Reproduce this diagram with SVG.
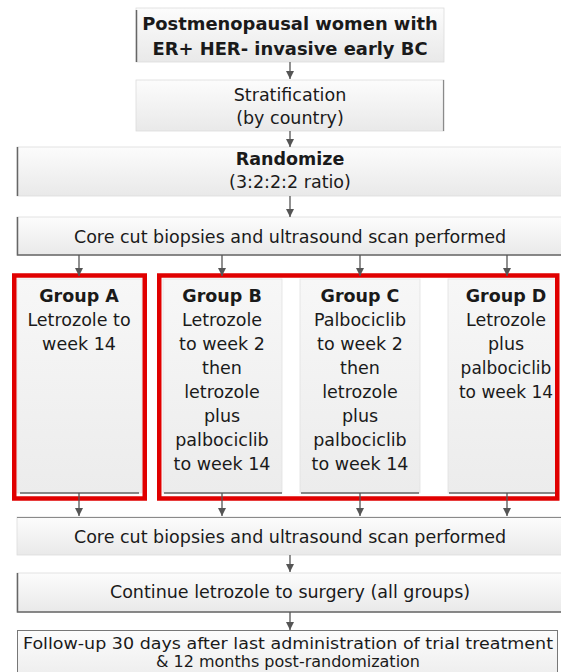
<svg xmlns="http://www.w3.org/2000/svg" width="561" height="672" viewBox="0 0 561 672">
<defs>
<linearGradient id="g" x1="0" y1="0" x2="0" y2="1">
<stop offset="0" stop-color="#fcfcfc"/>
<stop offset="1" stop-color="#e9e9e9"/>
</linearGradient>
<linearGradient id="gt" x1="0" y1="0" x2="0" y2="1">
<stop offset="0" stop-color="#f7f7f7"/>
<stop offset="1" stop-color="#ececec"/>
</linearGradient>
<marker id="ah" markerWidth="10" markerHeight="10" refX="9" refY="5" orient="auto" markerUnits="userSpaceOnUse" viewBox="0 0 10 10">
<path d="M1,1 L9,5 L1,9 Z" fill="#555"/>
</marker>
</defs>
<style>
.box{fill:url(#g);stroke:#dcdcdc;stroke-width:0.8}
.tall{fill:url(#gt);stroke:#e2e2e2;stroke-width:0.8}
.edge{stroke:#666;stroke-width:1.5;fill:none}
.edgel{stroke:#8a8a8a;stroke-width:1.2;fill:none}
.red{fill:none;stroke:#e00000;stroke-width:4.5}
.t{font-family:"DejaVu Sans",Verdana,sans-serif;font-size:17.5px;fill:#1a1a1a;text-anchor:middle}
.b{font-weight:bold}
.c{stroke:#555;stroke-width:1.3;fill:none;marker-end:url(#ah)}
</style>
<rect width="561" height="672" fill="#ffffff"/>

<g id="n1">
<rect class="box" x="136" y="8" width="308" height="54"/>
<line class="edge" x1="136.5" y1="10" x2="136.5" y2="62"/>
<text class="t b" x="290" y="30" style="font-size:17.9px">Postmenopausal women with</text>
<text class="t b" x="290" y="55" style="font-size:17.9px">ER+ HER- invasive early BC</text>
</g>

<g id="n2">
<rect class="box" x="136" y="80" width="308" height="51"/>
<line class="edgel" x1="443.5" y1="80" x2="443.5" y2="131"/>
<text class="t" x="290" y="101">Stratification</text>
<text class="t" x="290" y="124">(by country)</text>
</g>

<g id="n3">
<rect class="box" x="17" y="147" width="546" height="49"/>
<line class="edge" x1="17.5" y1="147" x2="17.5" y2="196"/>
<text class="t b" x="290" y="165">Randomize</text>
<text class="t" x="290" y="188">(3:2:2:2 ratio)</text>
</g>

<g id="n4">
<rect class="box" x="17" y="217" width="546" height="38"/>
<path class="edge" d="M17.5,217 V255 H561"/>
<text class="t" x="290" y="243">Core cut biopsies and ultrasound scan performed</text>
</g>

<g id="nA">
<rect class="tall" x="17" y="279" width="125" height="214"/>
<line class="edge" x1="20" y1="493" x2="139" y2="493"/>
<rect class="red" x="14.25" y="275.5" width="130.5" height="223"/>
<text class="t b" x="79" y="302">Group A</text>
<text class="t" x="79" y="326">Letrozole to</text>
<text class="t" x="79" y="350">week 14</text>
</g>

<g id="nBCD">
<rect class="tall" x="163" y="279" width="119" height="214"/>
<rect class="tall" x="300" y="279" width="120" height="214"/>
<rect class="tall" x="448" y="279" width="108" height="214"/>
<line class="edge" x1="164" y1="493" x2="282" y2="493"/>
<line class="edge" x1="301" y1="493" x2="419" y2="493"/>
<line class="edge" x1="449" y1="493" x2="556" y2="493"/>
<rect class="red" x="159.25" y="275.5" width="398" height="223"/>
</g>

<g id="nB">
<text class="t b" x="222" y="302">Group B</text>
<text class="t" x="222" y="326">Letrozole</text>
<text class="t" x="222" y="350">to week 2</text>
<text class="t" x="222" y="374">then</text>
<text class="t" x="222" y="398">letrozole</text>
<text class="t" x="222" y="422">plus</text>
<text class="t" x="222" y="446">palbociclib</text>
<text class="t" x="222" y="470">to week 14</text>
</g>

<g id="nC">
<text class="t b" x="360" y="302">Group C</text>
<text class="t" x="360" y="326">Palbociclib</text>
<text class="t" x="360" y="350">to week 2</text>
<text class="t" x="360" y="374">then</text>
<text class="t" x="360" y="398">letrozole</text>
<text class="t" x="360" y="422">plus</text>
<text class="t" x="360" y="446">palbociclib</text>
<text class="t" x="360" y="470">to week 14</text>
</g>

<g id="nD">
<text class="t b" x="506" y="302">Group D</text>
<text class="t" x="506" y="326">Letrozole</text>
<text class="t" x="506" y="350">plus</text>
<text class="t" x="506" y="374" style="font-size:17px">palbociclib</text>
<text class="t" x="506" y="398" style="font-size:17px">to week 14</text>
</g>

<g id="n5">
<rect class="box" x="17" y="517" width="546" height="38"/>
<line class="edgel" x1="17" y1="517.5" x2="561" y2="517.5"/>
<text class="t" x="290" y="543">Core cut biopsies and ultrasound scan performed</text>
</g>

<g id="n6">
<rect class="box" x="17" y="573" width="546" height="39"/>
<path class="edge" d="M17.5,573 V612 H561"/>
<text class="t" x="290" y="598">Continue letrozole to surgery (all groups)</text>
</g>

<g id="n7">
<rect x="17.5" y="630.5" width="540" height="60" fill="url(#g)" stroke="#777" stroke-width="1"/>
<text class="t" x="288" y="649" style="font-size:16px" textLength="530" lengthAdjust="spacingAndGlyphs">Follow-up 30 days after last administration of trial treatment</text>
<text class="t" x="288" y="667" style="font-size:16px">&amp; 12 months post-randomization</text>
</g>

<g id="connectors">
<line class="c" x1="290" y1="62" x2="290" y2="79"/>
<line class="c" x1="290" y1="131" x2="290" y2="147"/>
<line class="c" x1="290" y1="196" x2="290" y2="217"/>
<line class="c" x1="79" y1="255" x2="79" y2="276"/>
<line class="c" x1="222" y1="255" x2="222" y2="276"/>
<line class="c" x1="360" y1="255" x2="360" y2="276"/>
<line class="c" x1="507" y1="255" x2="507" y2="276"/>
<line class="c" x1="79" y1="493" x2="79" y2="516"/>
<line class="c" x1="222" y1="493" x2="222" y2="516"/>
<line class="c" x1="360" y1="493" x2="360" y2="516"/>
<line class="c" x1="507" y1="493" x2="507" y2="516"/>
<line class="c" x1="290" y1="555" x2="290" y2="572"/>
<line class="c" x1="290" y1="612" x2="290" y2="630"/>
</g>
</svg>
